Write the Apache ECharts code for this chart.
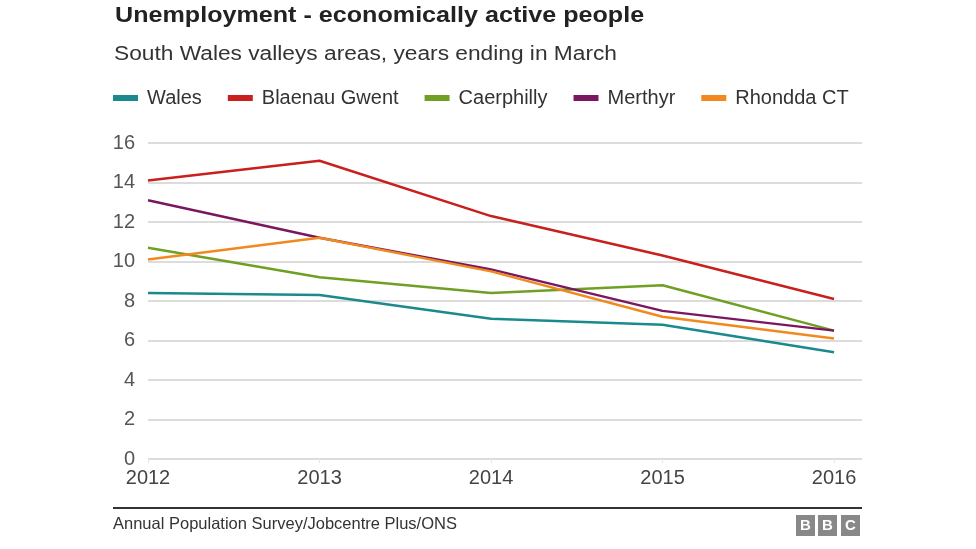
<!DOCTYPE html>
<html>
<head>
<meta charset="utf-8">
<script src="https://cdn.jsdelivr.net/npm/echarts@6/dist/echarts.min.js"></script>
<style>
html,body{margin:0;padding:0;background:#fff;}
#chart{width:976px;height:549px;}
</style>
</head>
<body>
<div id="chart"></div>
<script>
const years = [2012, 2013, 2014, 2015, 2016];
const seriesNames = ['Wales', 'Blaenau Gwent', 'Caerphilly', 'Merthyr', 'Rhondda CT'];
const wales = [8.4, 8.3, 7.1, 6.8, 5.4];
const blaenauGwent = [14.1, 15.1, 12.3, 10.3, 8.1];
const caerphilly = [10.7, 9.2, 8.4, 8.8, 6.5];
const merthyr = [13.1, 11.2, 9.6, 7.5, 6.5];
const rhonddaCT = [10.1, 11.2, 9.5, 7.2, 6.1];
const yTicks = [0, 2, 4, 6, 8, 10, 12, 14, 16];
const titleText = 'Unemployment - economically active people';
const subtitleText = 'South Wales valleys areas, years ending in March';
const sourceText = 'Annual Population Survey/Jobcentre Plus/ONS';
const colors = ['#1b8a8f', '#c8201e', '#6fa024', '#7b1760', '#f08a1e'];

const values = [wales, blaenauGwent, caerphilly, merthyr, rhonddaCT];
const FONT = '"Liberation Sans", Arial, Helvetica, sans-serif';

const chart = echarts.init(document.getElementById('chart'));
chart.setOption({
  animation: false,
  backgroundColor: '#fff',
  color: colors,
  legend: {
    left: 113, top: 88, padding: 0,
    icon: 'rect', itemWidth: 25, itemHeight: 6, itemGap: 26,
    textStyle: { fontFamily: FONT, fontSize: 20, color: '#333', padding: [0, 0, 0, 4] },
    data: seriesNames
  },
  grid: { left: 148, right: 114, top: 143, bottom: 90 },
  xAxis: {
    type: 'value', min: 2012, max: 2016.163, interval: 1,
    axisLine: { show: false },
    axisTick: { show: true, length: 4, lineStyle: { color: '#e6e6e6' } },
    splitLine: { show: false },
    axisLabel: {
      fontFamily: FONT, fontSize: 20, color: '#444', margin: 9,
      showMaxLabel: false,
      formatter: v => (Number.isInteger(v) ? String(v) : '')
    }
  },
  yAxis: {
    type: 'value', min: yTicks[0], max: yTicks[yTicks.length - 1], interval: 2,
    axisLine: { show: false }, axisTick: { show: false },
    splitLine: { lineStyle: { color: '#dcdcdc', width: 2 } },
    axisLabel: { fontFamily: FONT, fontSize: 20, color: '#555', margin: 13 }
  },
  series: seriesNames.map((n, i) => ({
    name: n, type: 'line', symbol: 'none',
    lineStyle: { width: 2.5, color: colors[i] },
    data: years.map((y, j) => [y, values[i][j]])
  })),
  graphic: [
    { type: 'text', x: 115, y: 16, scaleX: 1.142,
      style: { text: titleText, font: 'bold 22px ' + FONT, fill: '#222', verticalAlign: 'middle' } },
    { type: 'text', x: 114, y: 55, scaleX: 1.165,
      style: { text: subtitleText, font: '19.5px ' + FONT, fill: '#333', verticalAlign: 'middle' } },
    { type: 'rect', shape: { x: 113, y: 507, width: 749, height: 2 }, style: { fill: '#333' } },
    { type: 'text', x: 113, y: 524,
      style: { text: sourceText, font: '16.5px ' + FONT, fill: '#333', verticalAlign: 'middle' } },
    { type: 'rect', shape: { x: 796, y: 515, width: 19, height: 21 }, style: { fill: '#888' } },
    { type: 'rect', shape: { x: 818, y: 515, width: 19, height: 21 }, style: { fill: '#888' } },
    { type: 'rect', shape: { x: 841, y: 515, width: 19, height: 21 }, style: { fill: '#888' } },
    { type: 'text', x: 805.5, y: 526, style: { text: 'B', font: 'bold 15px ' + FONT, fill: '#fff', align: 'center', verticalAlign: 'middle' } },
    { type: 'text', x: 827.5, y: 526, style: { text: 'B', font: 'bold 15px ' + FONT, fill: '#fff', align: 'center', verticalAlign: 'middle' } },
    { type: 'text', x: 850.5, y: 526, style: { text: 'C', font: 'bold 15px ' + FONT, fill: '#fff', align: 'center', verticalAlign: 'middle' } }
  ]
});
</script>
</body>
</html>
